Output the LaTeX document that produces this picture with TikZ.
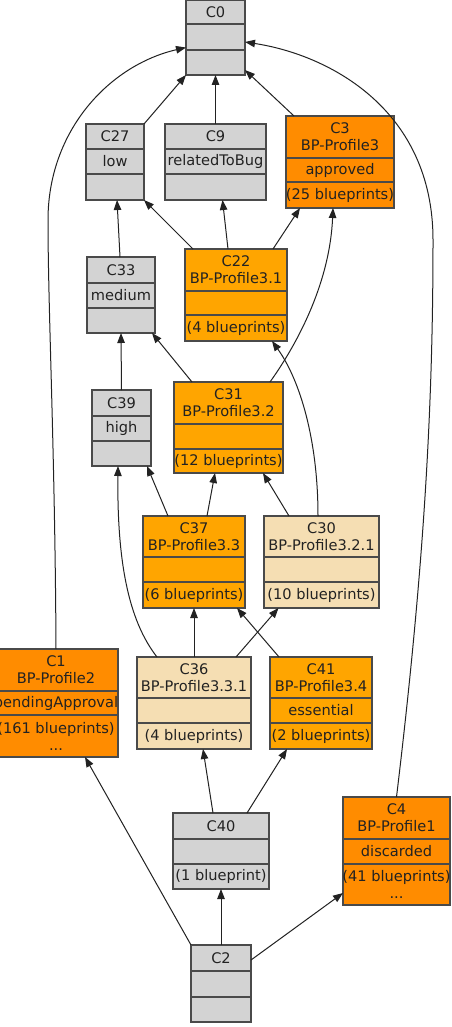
\documentclass[tikz,border=0pt]{standalone}
\usepackage{fontspec}
\setmainfont{DejaVu Sans}
\usetikzlibrary{arrows.meta}
\definecolor{boxgray}{HTML}{D3D3D3}
\definecolor{dorange}{HTML}{FF8C00}
\definecolor{morange}{HTML}{FFA500}
\definecolor{wheatc}{HTML}{F5DEB3}
\definecolor{bordc}{HTML}{4A4A4A}
\definecolor{txtc}{HTML}{222222}
\tikzset{
  cls/.style={draw=bordc, line width=1.4pt, rectangle, inner sep=0pt, outer sep=0pt},
  divider/.style={draw=bordc, line width=1.2pt},
  lbl/.style={inner sep=0pt, text=txtc, align=center, font=\fontsize{14.6}{17}\selectfont},
  edge/.style={draw=txtc, line width=1pt, -{Triangle[length=10pt,width=7.5pt]}},
}
\newcommand\umlbox[9]{%
  \node[cls, fill=#2, minimum width={#5-#3}, minimum height={#6-#4}] (#1) at ({(#3+#5)/2},{(#4+#6)/2}) {};
  \draw[divider] (#3,#7) -- (#5,#7) (#3,#8) -- (#5,#8);
  \node[lbl] (#1-h) at ({(#3+#5)/2},{(#4+#7)/2}) {#9};}
\newcommand\umlrows[8]{%
  \node[lbl] (#1-m) at ({(#2+#3)/2},{(#4+#5)/2}) {#7};
  \node[lbl] (#1-b) at ({(#2+#3)/2},{(#5+#6)/2}) {#8};}
\begin{document}
\begin{tikzpicture}[x=1pt,y=-1pt]
\useasboundingbox (0,0) rectangle (451,1027);
\clip (0,0) rectangle (451,1027);
\fill[white] (0,0) rectangle (451,1027);

\umlbox{c0}{boxgray}{186}{0}{245}{75}{24}{50}{C0}
\umlrows{c0}{186}{245}{24}{50}{75}{}{}
\umlbox{c27}{boxgray}{86}{124}{144}{200}{149}{174}{C27}
\umlrows{c27}{86}{144}{149}{174}{200}{low}{}
\umlbox{c9}{boxgray}{165}{124}{266}{200}{149}{174}{C9}
\umlrows{c9}{165}{266}{149}{174}{200}{relatedToBug}{}
\umlbox{c3}{dorange}{286}{116}{394}{208}{158}{182}{C3\\BP-Profile3}
\umlrows{c3}{286}{394}{158}{182}{208}{approved}{(25 blueprints)}
\umlbox{c22}{morange}{185}{249}{287}{341}{291}{315}{C22\\BP-Profile3.1}
\umlrows{c22}{185}{287}{291}{315}{341}{}{(4 blueprints)}
\umlbox{c33}{boxgray}{87}{257}{155}{333}{283}{308}{C33}
\umlrows{c33}{87}{155}{283}{308}{333}{medium}{}
\umlbox{c39}{boxgray}{92}{390}{151}{466}{416}{441}{C39}
\umlrows{c39}{92}{151}{416}{441}{466}{high}{}
\umlbox{c31}{morange}{174}{382}{283}{473}{424}{449}{C31\\BP-Profile3.2}
\umlrows{c31}{174}{283}{424}{449}{473}{}{(12 blueprints)}
\umlbox{c37}{morange}{143}{516}{245}{608}{557}{582}{C37\\BP-Profile3.3}
\umlrows{c37}{143}{245}{557}{582}{608}{}{(6 blueprints)}
\umlbox{c30}{wheatc}{264}{516}{379}{608}{557}{582}{C30\\BP-Profile3.2.1}
\umlrows{c30}{264}{379}{557}{582}{608}{}{(10 blueprints)}
\umlbox{c36}{wheatc}{137}{657}{251}{749}{698}{723}{C36\\BP-Profile3.3.1}
\umlrows{c36}{137}{251}{698}{723}{749}{}{(4 blueprints)}
\umlbox{c41}{morange}{270}{657}{372}{749}{698}{723}{C41\\BP-Profile3.4}
\umlrows{c41}{270}{372}{698}{723}{749}{essential}{(2 blueprints)}
\umlbox{c1}{dorange}{-6}{649}{118}{757}{691}{715}{C1\\BP-Profile2}
\umlrows{c1}{-6}{118}{691}{715}{757}{pendingApproval}{(161 blueprints)\\...}
\umlbox{c40}{boxgray}{173}{813}{269}{889}{839}{864}{C40}
\umlrows{c40}{173}{269}{839}{864}{889}{}{(1 blueprint)}
\umlbox{c4}{dorange}{343}{797}{450}{905}{839}{864}{C4\\BP-Profile1}
\umlrows{c4}{343}{450}{839}{864}{905}{discarded}{(41 blueprints)\\...}
\umlbox{c2}{boxgray}{191}{945}{251}{1022}{971}{997}{C2}
\umlrows{c2}{191}{251}{971}{997}{1022}{}{}

% edges (child -> parent)
\draw[edge] (c27.north east) -- (c0.south west);
\draw[edge] (c9.north) -- (c0.south);
\draw[edge] ([xshift=8pt]c3.north west) -- ([yshift=5pt]c0.south east);
\draw[edge] (c1.north) .. controls (55,450) and (48,310) .. (48,220)
  .. controls (48,130) and (110,65) .. ([yshift=-10pt]c0.west);
\draw[edge] (c4.north) .. controls (425,560) and (433,400) .. (433,240)
  .. controls (433,110) and (330,55) .. ([yshift=-4.5pt]c0.east);
\draw[edge] ([xshift=-1pt]c33.north) -- ([xshift=2pt]c27.south);
\draw[edge] ([xshift=8pt]c22.north west) -- (c27.south east);
\draw[edge] ([xshift=-8pt]c22.north) -- ([xshift=7pt]c9.south);
\draw[edge] ([xshift=-14pt]c22.north east) -- ([xshift=-40pt]c3.south);
\draw[edge] ([xshift=-13pt]c31.north east) .. controls (300,340) and (330,280) .. ([xshift=-7pt]c3.south);
\draw[edge] (c39.north) -- (c33.south);
\draw[edge] ([xshift=18pt]c31.north west) -- ([xshift=-3pt]c33.south east);
\draw[edge] ([xshift=25pt]c37.north west) -- ([xshift=-4pt]c39.south east);
\draw[edge] ([xshift=13pt]c37.north) -- ([xshift=-13.5pt]c31.south);
\draw[edge] ([xshift=25pt]c30.north west) -- ([xshift=-20pt]c31.south east);
\draw[edge] ([xshift=-3.5pt]c30.north) .. controls (318,440) and (300,380) .. ([xshift=-15pt]c22.south east);
\draw[edge] ([xshift=20pt]c36.north west) .. controls (128,620) and (117,560) .. ([xshift=-3.5pt]c39.south);
\draw[edge] (c36.north) -- (c37.south);
\draw[edge] ([xshift=-15pt]c36.north east) -- ([xshift=-43pt]c30.south);
\draw[edge] ([xshift=9pt]c41.north west) -- ([xshift=-8pt]c37.south east);
\draw[edge] ([xshift=-8pt]c40.north) -- ([xshift=9pt]c36.south);
\draw[edge] ([xshift=26pt]c40.north) -- ([xshift=-34pt]c41.south);
\draw[edge] (c2.north) -- (c40.south);
\draw[edge] (c2.north west) -- ([xshift=29pt]c1.south);
\draw[edge] ([yshift=-15pt]c2.north east) -- ([yshift=-42pt]c4.west);
\end{tikzpicture}
\end{document}
